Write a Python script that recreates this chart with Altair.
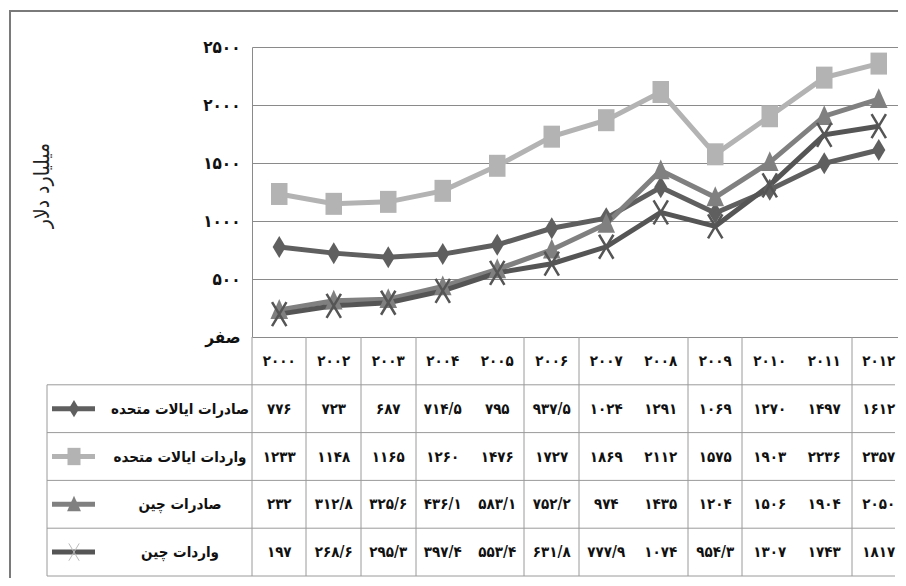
import altair as alt
import pandas as pd

# ---------------- data ----------------
years = ["2000", "2002", "2003", "2004", "2005", "2006", "2007", "2008", "2009", "2010", "2011", "2012"]
us_exports = [776, 723, 687, 714.5, 795, 937.5, 1024, 1291, 1069, 1270, 1497, 1612]
us_imports = [1233, 1148, 1165, 1260, 1476, 1727, 1869, 2112, 1575, 1903, 2236, 2357]
china_exports = [232, 312.8, 325.6, 436.1, 583.1, 752.2, 974, 1435, 1204, 1506, 1904, 2050]
china_imports = [197, 268.6, 295.3, 397.4, 553.4, 631.8, 777.9, 1074, 954.3, 1307, 1743, 1817]
series_names = ["صادرات ایالات متحده", "واردات ایالات متحده", "صادرات چین", "واردات چین"]
y_ticks = [0, 500, 1000, 1500, 2000, 2500]
y_title = "میلیارد دلار"
zero_label = "صفر"
# columns whose left border line is drawn in the data table (as in the picture)
table_col_lines = ["2000", "2002", "2003", "2004", "2006", "2007", "2009", "2010", "2012"]

# ---------------- helpers ----------------
FA = str.maketrans("0123456789.", "۰۱۲۳۴۵۶۷۸۹/")


def fa(v):
    if float(v).is_integer():
        s = str(int(v))
    else:
        s = f"{v:.1f}"
    return s.translate(FA)


values = [us_exports, us_imports, china_exports, china_imports]
rows = []
for name, vals in zip(series_names, values):
    for yr, v in zip(years, vals):
        rows.append({"year": yr, "series": name, "value": v, "label": fa(v)})
df = pd.DataFrame(rows)
df_years = pd.DataFrame({"year": years, "row": "h", "ylabel": [y.translate(FA) for y in years]})
df_series = pd.DataFrame({"series": series_names})
df_rows = pd.DataFrame({"row": ["h"] + series_names})
one = pd.DataFrame({"a": [0]})

# ---------------- styles ----------------
FONT = "DejaVu Sans Condensed, DejaVu Sans"
colors = ["#5f5f5f", "#b3b3b3", "#808080", "#555555"]
shapes = [
    "M0,-1L0.6,0L0,1L-0.6,0Z",
    "M-0.75,-1L0.75,-1L0.75,1L-0.75,1Z",
    "M0,-1L0.8,0.8L-0.8,0.8Z",
    "M-0.6,-1L0.6,1M-0.6,1L0.6,-1",
]
PLOT_H = 290
TABLE_BOTTOM = 529
W_RANGE = 654
BAND = W_RANGE / len(years)

xs = alt.Scale(type="band", domain=years, range=[0, W_RANGE], paddingInner=0, paddingOuter=0)
X = alt.X("year:N", scale=xs, axis=None)
ys_plot = alt.Scale(domain=[0, 2500], range=[PLOT_H, 0], nice=False)
row_domain = ["h"] + series_names
ys_row = alt.Scale(type="band", domain=row_domain, range=[PLOT_H, TABLE_BOTTOM], paddingInner=0, paddingOuter=0)
color = alt.Color("series:N", scale=alt.Scale(domain=series_names, range=colors), legend=None)
shape = alt.Shape("series:N", scale=alt.Scale(domain=series_names, range=shapes), legend=None)

label_map = {t: (zero_label if t == 0 else fa(t)) for t in y_ticks}
expr = "''"
for t in reversed(y_ticks):
    expr = f"datum.value == {t} ? '{label_map[t]}' : ({expr})"

y_axis = alt.Axis(
    values=y_ticks, labelExpr=expr, grid=True, gridColor="#8a8a8a", gridWidth=1,
    ticks=False, domain=True, domainColor="#8a8a8a", domainWidth=1,
    labelFont=FONT, labelFontSize=17, labelFontWeight="bold", labelColor="#111",
    labelPadding=12, title=y_title, titleFont=FONT, titleFontSize=21,
    titleFontWeight="normal", titleColor="#222", titleAngle=-90,
    titleX=-210, titleY=138, titleAlign="center", titleBaseline="middle",
)

# ---------------- plot layers ----------------
lines = alt.Chart(df).mark_line(strokeWidth=5).encode(
    x=X, y=alt.Y("value:Q", scale=ys_plot, axis=y_axis), color=color, detail="series:N"
)
pts_filled = alt.Chart(df).transform_filter(
    alt.FieldOneOfPredicate(field="series", oneOf=series_names[:3])
).mark_point(filled=True, opacity=1, size=484).encode(
    x=X, y=alt.Y("value:Q", scale=ys_plot, axis=None), color=color, shape=shape
)
pts_x = alt.Chart(df).transform_filter(
    alt.FieldEqualPredicate(field="series", equal=series_names[3])
).mark_point(filled=False, opacity=1, size=576, strokeWidth=2.5).encode(
    x=X, y=alt.Y("value:Q", scale=ys_plot, axis=None), color=color, shape=shape
)

# ---------------- table layers ----------------
# table column borders (decoration): one rule per drawn border
col_lines = [
    alt.Chart(one).mark_rule(color="#9a9a9a", strokeWidth=1).encode(
        x=alt.value(round(years.index(y) * BAND)),
        y=alt.value(PLOT_H), y2=alt.value(TABLE_BOTTOM),
    )
    for y in table_col_lines
]
row_lines = alt.Chart(df_rows).mark_rule(color="#9a9a9a", strokeWidth=1).encode(
    y=alt.Y("row:N", scale=ys_row, axis=None, bandPosition=1),
    x=alt.value(-205), x2=alt.value(643),
)
box_left = alt.Chart(one).mark_rule(color="#9a9a9a", strokeWidth=1).encode(
    x=alt.value(-205), y=alt.value(PLOT_H + (TABLE_BOTTOM - PLOT_H) / 5), y2=alt.value(TABLE_BOTTOM)
)
header = alt.Chart(df_years).mark_text(font=FONT, fontSize=15, fontWeight="bold", color="#111").encode(
    x=X, y=alt.Y("row:N", scale=ys_row, axis=None, bandPosition=0.5), text="ylabel:N"
)
cells = alt.Chart(df).mark_text(font=FONT, fontSize=15, fontWeight="bold", color="#111").encode(
    x=X, y=alt.Y("series:N", scale=ys_row, axis=None, bandPosition=0.5), text="label:N"
)
row_labels = alt.Chart(df_series).mark_text(font=FONT, fontSize=15, fontWeight="bold", color="#111", align="center").encode(
    x=alt.value(-72), y=alt.Y("series:N", scale=ys_row, axis=None, bandPosition=0.5), text="series:N"
)
legend_lines = alt.Chart(df_series).mark_rule(strokeWidth=5).encode(
    x=alt.value(-200), x2=alt.value(-157),
    y=alt.Y("series:N", scale=ys_row, axis=None, bandPosition=0.5), color=color
)
legend_pts = alt.Chart(df_series).transform_filter(
    alt.FieldOneOfPredicate(field="series", oneOf=series_names[:3])
).mark_point(filled=True, opacity=1, size=300).encode(
    x=alt.value(-178), y=alt.Y("series:N", scale=ys_row, axis=None, bandPosition=0.5), color=color, shape=shape
)
legend_x = alt.Chart(df_series).transform_filter(
    alt.FieldEqualPredicate(field="series", equal=series_names[3])
).mark_point(filled=False, opacity=1, size=300, strokeWidth=1, color="#bbbbbb").encode(
    x=alt.value(-178), y=alt.Y("series:N", scale=ys_row, axis=None, bandPosition=0.5), shape=shape
)
frame = alt.Chart(one).mark_rect(fillOpacity=0, stroke="#7a7a7a", strokeWidth=2).encode(
    x=alt.value(-242), x2=alt.value(720), y=alt.value(-36), y2=alt.value(620)
)

chart = alt.layer(
    frame, lines, pts_filled, pts_x,
    row_lines, box_left, *col_lines, header, cells, row_labels,
    legend_lines, legend_pts, legend_x,
).resolve_scale(y="independent").properties(
    width=646, height=TABLE_BOTTOM,
    padding={"left": 244, "top": 39, "right": 0, "bottom": 2},
    autosize=alt.AutoSizeParams(type="none"),
    background="white",
).configure_view(stroke=None)

chart.save("out.html", embed_options={"renderer": "svg", "actions": False})
